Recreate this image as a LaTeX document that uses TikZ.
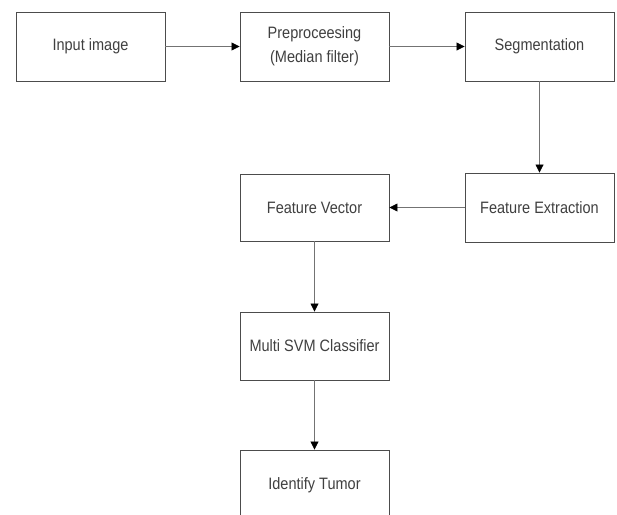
\documentclass[tikz,border=0pt]{standalone}
\usepackage{fontspec}
\setmainfont{Liberation Sans}[FakeStretch=0.88]
\usetikzlibrary{arrows.meta}
\begin{document}
\begin{tikzpicture}[x=1pt,y=-1pt,
  box/.style={draw=black!70, line width=0.9pt, fill=white, minimum width=149pt, minimum height=69pt, inner sep=0pt, align=center, text=black!75, font=\fontsize{16.5}{24}\selectfont},
  conn/.style={draw=black!55, line width=0.8pt, -{Triangle[length=8pt,width=8pt,color=black]}}]
\useasboundingbox[fill=white] (0,0) rectangle (617,514);
\begin{scope}
\clip (0,0) rectangle (617,514);
\node[box] (in) at (90.5,46.5) {Input image};
\node[box] (pre) at (314.5,46.5) {Preproceesing\\(Median filter)};
\node[box] (seg) at (539.5,46.5) {Segmentation};
\node[box] (fe) at (539.5,207.5) {Feature Extraction};
\node[box, minimum height=67pt] (fv) at (314.5,207.5) {Feature Vector};
\node[box, minimum height=68pt] (svm) at (314.5,346) {Multi SVM Classifier};
\node[box, minimum height=70pt] (it) at (314.5,485) {Identify Tumor};
\end{scope}
\draw[conn] (in) -- (pre);
\draw[conn] (pre) -- (seg);
\draw[conn] (seg) -- (fe);
\draw[conn] (fe) -- (fv);
\draw[conn] (fv) -- (svm);
\draw[conn] (svm) -- (it);
\end{tikzpicture}
\end{document}
